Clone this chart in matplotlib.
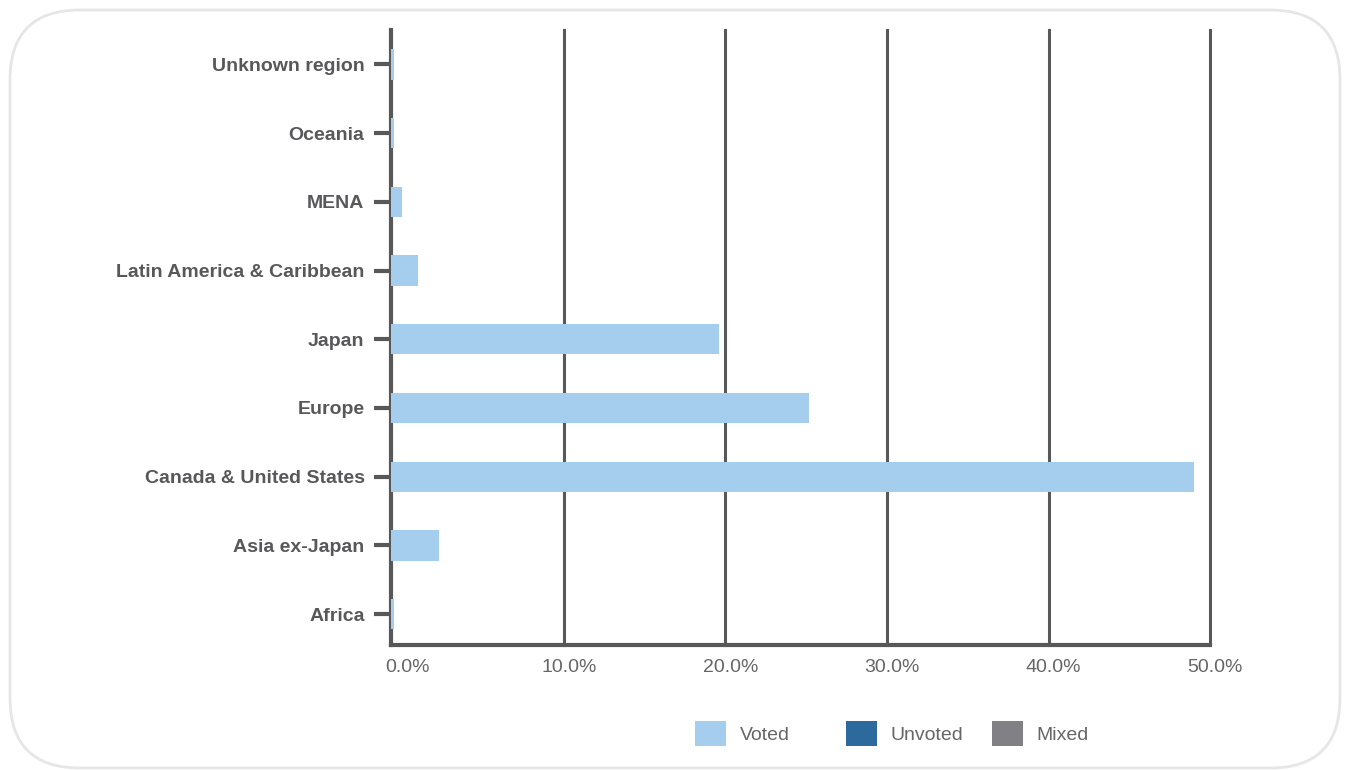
"""Distributie pe regiuni - bare orizontale cu legenda jos."""

import matplotlib
matplotlib.use("Agg")
import matplotlib.pyplot as plt
from matplotlib.patches import FancyBboxPatch, Patch
from matplotlib.transforms import ScaledTranslation

regions = ["Africa", "Asia ex-Japan", "Canada & United States", "Europe", "Japan",
           "Latin America & Caribbean", "MENA", "Oceania", "Unknown region"]
# lungimea barelor, masurata de la baza axei (x_floor)
voted = [0.2, 3.0, 49.7, 25.9, 20.3, 1.7, 0.7, 0.2, 0.2]
x_floor = -0.7
x_ticks = [0, 10, 20, 30, 40, 50]
series = ["Voted", "Unvoted", "Mixed"]
colors = ["#a5cdee", "#2c6a9e", "#808085"]

GRID = "#58585a"
TXT = "#58585a"
FONT = "Liberation Sans"

fig = plt.figure(figsize=(13.46, 7.70), dpi=100)
ax = fig.add_axes([0.2905, 0.1623, 0.899 - 0.2905, 0.961 - 0.1623])

# chenar rotunjit in jurul figurii
frame = FancyBboxPatch((0.10, 0.02), 13.30, 7.58,
                       boxstyle="round,pad=0,rounding_size=0.7",
                       transform=fig.dpi_scale_trans, fill=False,
                       edgecolor="#e6e6e6", linewidth=2.0, zorder=0)
fig.patches.append(frame)

y = list(range(len(regions)))
ax.barh(y, voted, left=x_floor, height=0.44, color=colors[0], zorder=3)

ax.set_xlim(x_floor, 50)
ax.set_ylim(-0.45, 8.5)
ax.set_xticks(x_ticks)
ax.set_xticklabels([f"{t:.1f}%" for t in x_ticks])
ax.set_yticks(y)
ax.set_yticklabels(regions)

# linii verticale (fara linia de la 0)
for t in x_ticks[1:]:
    ax.axvline(t, color=GRID, linewidth=2.2, zorder=1, clip_on=False)

for side in ("top", "right"):
    ax.spines[side].set_visible(False)
for side in ("left", "bottom"):
    ax.spines[side].set_color(GRID)
    ax.spines[side].set_linewidth(3)

ax.tick_params(axis="y", length=12, width=3, color=GRID, pad=7)
ax.tick_params(axis="x", length=0, pad=10)
for lab in ax.get_yticklabels():
    lab.set_fontfamily(FONT)
    lab.set_fontweight("bold")
    lab.set_fontsize(14)
    lab.set_color(TXT)
shift = ScaledTranslation(5 / 100, 0, fig.dpi_scale_trans)
for lab in ax.get_xticklabels():
    lab.set_fontfamily(FONT)
    lab.set_fontsize(14)
    lab.set_color("#666666")
    lab.set_transform(lab.get_transform() + shift)

# legenda: cate o intrare pe coloana fixa
leg_x = [0.5031, 0.6153, 0.7237]
for s, c, lx in zip(series, colors, leg_x):
    leg = fig.legend(handles=[Patch(facecolor=c, edgecolor="none", label=s)],
                     loc="center left", bbox_to_anchor=(lx, 0.0468),
                     frameon=False, handlelength=1.6, handleheight=1.6,
                     handletextpad=0.72, prop={"family": FONT, "size": 14})
    for t in leg.get_texts():
        t.set_color("#666666")

fig.savefig("out.png", dpi=100)
